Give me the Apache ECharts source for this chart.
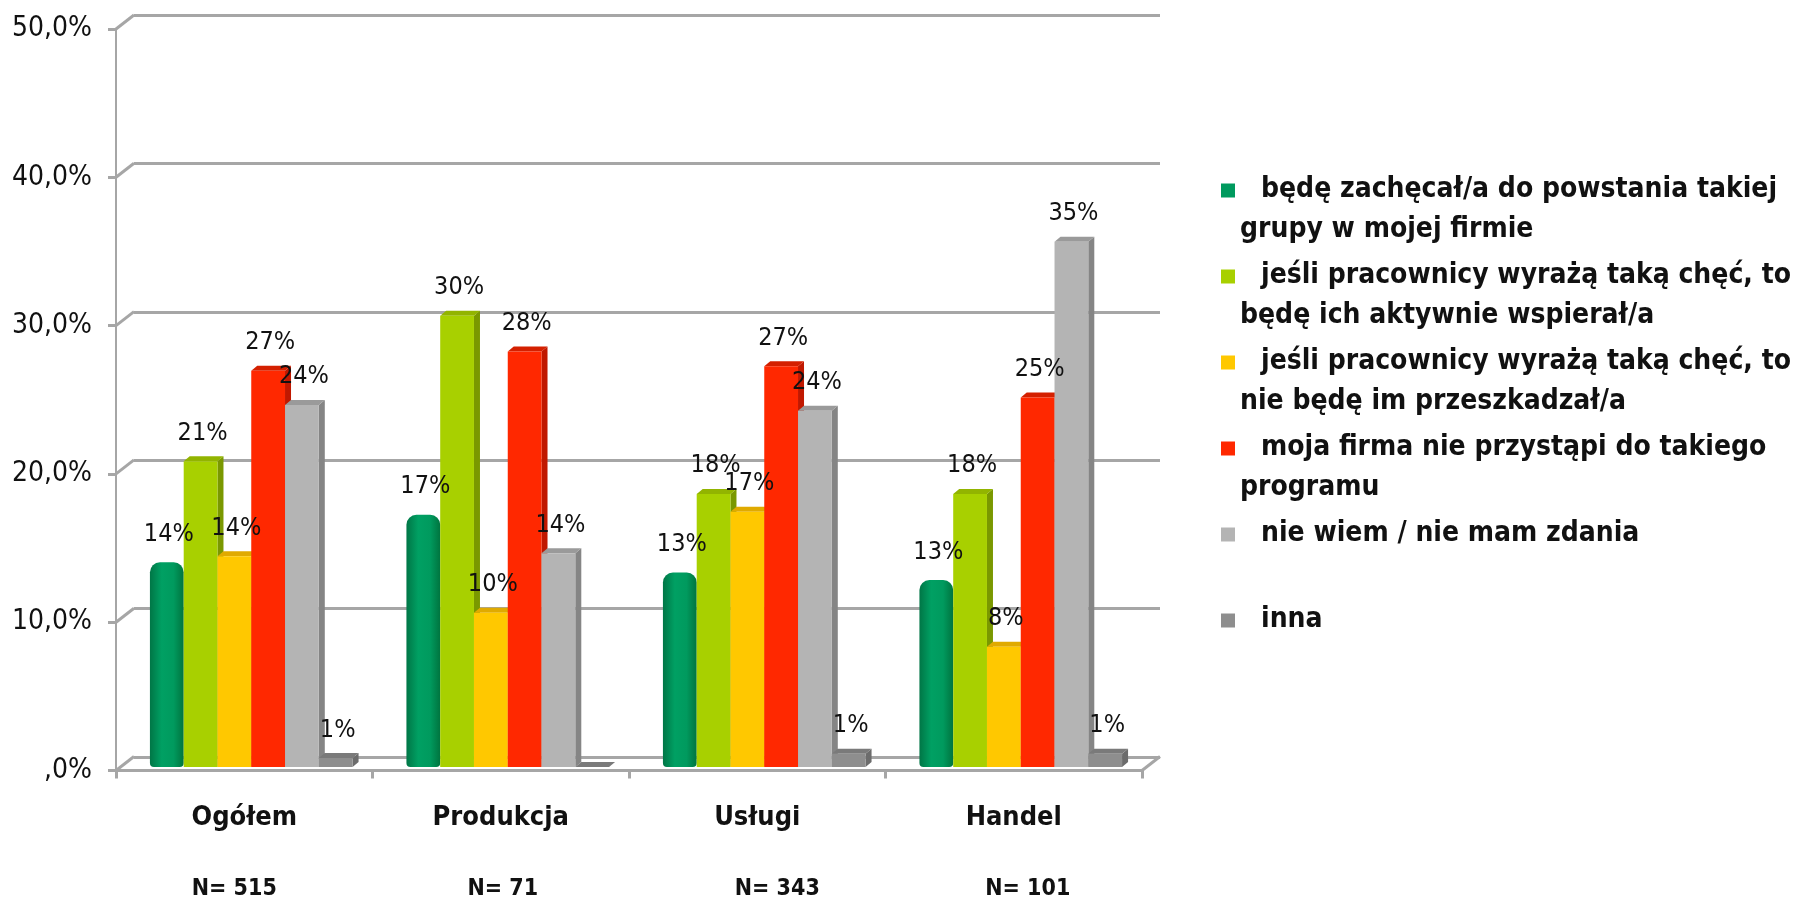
<!DOCTYPE html>
<html>
<head>
<meta charset="utf-8">
<script src="https://cdn.jsdelivr.net/npm/echarts@6/dist/echarts.min.js"></script>
<style>
  html, body { margin: 0; padding: 0; background: #ffffff; }
  #chart { width: 1798px; height: 901px; }
</style>
</head>
<body>
<div id="chart"></div>
<script>
// ---------- data ----------
const categories = ['Ogółem', 'Produkcja', 'Usługi', 'Handel'];
const sampleSizes = ['N= 515', 'N= 71', 'N= 343', 'N= 101'];
const yTickValues = [0, 10, 20, 30, 40, 50];
const yTickLabels = [',0%', '10,0%', '20,0%', '30,0%', '40,0%', '50,0%'];

const seriesNames = [
  'będę zachęcał/a do powstania takiej grupy w mojej firmie',
  'jeśli pracownicy wyrażą taką chęć, to będę ich aktywnie wspierał/a',
  'jeśli pracownicy wyrażą taką chęć, to nie będę im przeszkadzał/a',
  'moja firma nie przystąpi do takiego programu',
  'nie wiem / nie mam zdania',
  'inna'
];
const legendLines = [
  ['będę zachęcał/a do powstania takiej', 'grupy w mojej firmie'],
  ['jeśli pracownicy wyrażą taką chęć, to', 'będę ich aktywnie wspierał/a'],
  ['jeśli pracownicy wyrażą taką chęć, to', 'nie będę im przeszkadzał/a'],
  ['moja firma nie przystąpi do takiego', 'programu'],
  ['nie wiem / nie mam zdania', ' '],
  ['inna', ' ']
];
const valsZachecal = [13.8, 17.0, 13.1, 12.6];
const valsWspieral = [20.6, 30.4, 18.4, 18.4];
const valsNiePrzeszkadzal = [14.2, 10.4, 17.2, 8.1];
const valsNiePrzystapi = [26.7, 28.0, 27.0, 24.9];
const valsNieWiem = [24.4, 14.4, 24.0, 35.4];
const valsInna = [0.6, 0, 0.9, 0.9];
const allValues = [valsZachecal, valsWspieral, valsNiePrzeszkadzal, valsNiePrzystapi, valsNieWiem, valsInna];

// ---------- styles ----------
const FONT = "'DejaVu Sans Condensed', 'DejaVu Sans', sans-serif";
const faceColors = [
  { front: '#009a5e', side: '#00703f', top: '#00b06c' },
  { front: '#a8d000', side: '#7a9800', top: '#92b400' },
  { front: '#ffc800', side: '#d9a400', top: '#e0aa00' },
  { front: '#ff2800', side: '#c01800', top: '#d42000' },
  { front: '#b4b4b4', side: '#858585', top: '#9a9a9a' },
  { front: '#8e8e8e', side: '#6c6c6c', top: '#7a7a7a' }
];
const GROUP_FRAC = 0.79;
const DX = 6, DY = 5;
const GRID_COLOR = '#a6a6a6';

function barRenderer(k) {
  return function (params, api) {
    const ci = api.value(0);
    const v = api.value(1);
    const base = api.coord([ci, 0]);
    const top = api.coord([ci, v]);
    const catW = api.size([1, 0])[0];
    const bw = catW * GROUP_FRAC / 6;
    const x = base[0] - 3 * bw + k * bw;
    const yb = base[1];
    const yt = top[1];
    const c = faceColors[k];
    const children = [];
    if (k === 0) {
      children.push({
        type: 'rect',
        shape: { x: x, y: yt, width: bw, height: yb - yt, r: [10, 10, 4, 4] },
        style: {
          fill: new echarts.graphic.LinearGradient(0, 0, 1, 0, [
            { offset: 0, color: '#007646' },
            { offset: 0.35, color: '#00a063' },
            { offset: 0.7, color: '#009a5e' },
            { offset: 1, color: '#00743f' }
          ])
        }
      });
    } else {
      children.push({
        type: 'polygon',
        shape: { points: [[x + bw, yt], [x + bw + DX, yt - DY], [x + bw + DX, yb - DY], [x + bw, yb]] },
        style: { fill: c.side }
      });
      children.push({
        type: 'polygon',
        shape: { points: [[x, yt], [x + DX, yt - DY], [x + bw + DX, yt - DY], [x + bw, yt]] },
        style: { fill: c.top }
      });
      children.push({
        type: 'rect',
        shape: { x: x, y: yt, width: bw, height: Math.max(0, yb - yt) },
        style: { fill: c.front }
      });
    }
    if (v > 0) {
      children.push({
        type: 'text',
        z2: 100,
        style: {
          text: Math.round(v) + '%',
          x: x + bw / 2 + 2,
          y: yt - 28,
          align: 'center',
          verticalAlign: 'middle',
          fontSize: 25,
          fontFamily: FONT,
          fill: '#111111'
        }
      });
    }
    return { type: 'group', children: children };
  };
}

const barSeries = seriesNames.map(function (name, k) {
  return {
    type: 'custom',
    name: name,
    xAxisIndex: 2,
    yAxisIndex: 2,
    clip: false,
    silent: true,
    itemStyle: { color: faceColors[k].front },
    encode: { x: 0, y: 1 },
    data: allValues[k].map(function (v, i) { return [i, v]; }),
    renderItem: barRenderer(k)
  };
});

// diagonals connecting front axis to back wall
const diagSeries = {
  type: 'custom',
  xAxisIndex: 0,
  yAxisIndex: 0,
  clip: false,
  silent: true,
  encode: { x: 0, y: 1 },
  data: yTickValues.map(function (v) { return [0, v]; }),
  renderItem: function (params, api) {
    const v = api.value(1);
    const p = api.coord([0, v]);
    const cs = params.coordSys;
    const children = [{
      type: 'line',
      shape: { x1: cs.x, y1: p[1], x2: cs.x + 18, y2: p[1] - 14 },
      style: { stroke: GRID_COLOR, lineWidth: 3 }
    }];
    if (v === 0) {
      children.push({
        type: 'line',
        shape: { x1: cs.x + cs.width, y1: p[1], x2: cs.x + cs.width + 18, y2: p[1] - 14 },
        style: { stroke: GRID_COLOR, lineWidth: 3 }
      });
    }
    return { type: 'group', children: children };
  }
};

const nShift = [-10, 2, 20, 14];
const richCat = {
  c: { fontSize: 27, fontWeight: 'bold', fontFamily: FONT, color: '#111', lineHeight: 30, align: 'center' }
};
nShift.forEach(function (s, i) {
  richCat['n' + i] = {
    fontSize: 23, fontWeight: 'bold', fontFamily: FONT, color: '#111', lineHeight: 114, align: 'center',
    padding: s >= 0 ? [0, 0, 0, 2 * s] : [0, -2 * s, 0, 0]
  };
});

const option = {
  backgroundColor: '#ffffff',
  animation: false,
  textStyle: { fontFamily: FONT },
  grid: [
    { left: 116, right: 656, top: 29, bottom: 130 },
    { left: 134, right: 638, top: 15, bottom: 144 },
    { left: 123, right: 649, top: 25, bottom: 134 }
  ],
  xAxis: [
    {
      gridIndex: 0, type: 'category', data: categories,
      axisLine: { show: true, lineStyle: { color: GRID_COLOR, width: 3 } },
      axisTick: { show: true, length: 8, lineStyle: { color: GRID_COLOR, width: 3 } },
      axisLabel: {
        margin: 32,
        interval: 0,
        formatter: function (val, idx) {
          return '{c|' + val + '}\n{n' + idx + '|' + sampleSizes[idx] + '}';
        },
        rich: richCat
      },
      splitLine: { show: false }
    },
    { gridIndex: 1, type: 'category', data: categories, show: false },
    { gridIndex: 2, type: 'category', data: categories, show: false }
  ],
  yAxis: [
    {
      gridIndex: 0, type: 'value', min: 0, max: 50, interval: 10,
      axisLine: { show: true, lineStyle: { color: GRID_COLOR, width: 2 } },
      axisTick: { show: true, length: 8, lineStyle: { color: GRID_COLOR, width: 3 } },
      axisLabel: {
        margin: 24, fontSize: 28, color: '#111', fontFamily: FONT,
        padding: [6, 0, 0, 0],
        formatter: function (v) { return yTickLabels[yTickValues.indexOf(v)]; }
      },
      splitLine: { show: false }
    },
    {
      gridIndex: 1, type: 'value', min: 0, max: 50, interval: 10,
      axisLine: { show: false }, axisTick: { show: false }, axisLabel: { show: false },
      splitLine: { show: true, lineStyle: { color: GRID_COLOR, width: 3 } }
    },
    {
      gridIndex: 2, type: 'value', min: 0, max: 50, interval: 10, show: false,
      splitLine: { show: false }
    }
  ],
  legend: {
    orient: 'vertical',
    left: 1216,
    top: 171,
    itemWidth: 14,
    itemHeight: 14,
    itemGap: 18,
    icon: 'rect',
    selectedMode: false,
    data: seriesNames,
    formatter: function (name) {
      const lines = legendLines[seriesNames.indexOf(name)];
      return '{a|' + lines[0] + '}\n{b|' + lines[1] + '}';
    },
    textStyle: {
      fontFamily: FONT, fontSize: 28, fontWeight: 'bold', color: '#111',
      rich: {
        a: { fontFamily: FONT, fontSize: 28, fontWeight: 'bold', color: '#111', lineHeight: 79, padding: [0, 0, 0, 21] },
        b: { fontFamily: FONT, fontSize: 28, fontWeight: 'bold', color: '#111', lineHeight: 1 }
      }
    }
  },
  series: [diagSeries].concat(barSeries)
};

const chart = echarts.init(document.getElementById('chart'), null, { renderer: 'canvas' });
chart.setOption(option);
</script>
</body>
</html>
